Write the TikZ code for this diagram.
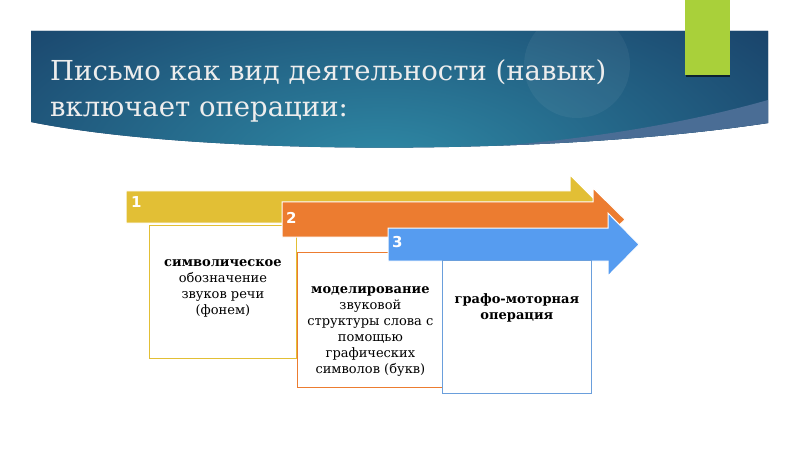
\documentclass[tikz,border=0pt]{standalone}
\usepackage{fontspec}
\setmainfont{DejaVu Serif}
\setsansfont{DejaVu Sans}
\usetikzlibrary{positioning}
\definecolor{banerdark}{HTML}{15345E}
\definecolor{banerlight}{HTML}{2F8AA6}
\definecolor{wedge}{HTML}{4A6D95}
\definecolor{grass}{HTML}{A9D03A}
\definecolor{gold}{HTML}{E2BF35}
\definecolor{carrot}{HTML}{EC7C30}
\definecolor{sky}{HTML}{569CF0}
\definecolor{skyline}{HTML}{6A9FDC}
\tikzset{
  band/.style={draw=white, line width=1pt},
  num/.style={text=white, font=\sffamily\bfseries\fontsize{15}{15}\selectfont,
    inner sep=0pt, anchor=west},
  stepbox/.style={rectangle, fill=white, line width=.8pt, inner sep=0pt,
    anchor=north west},
  boxtext/.style={align=center, inner sep=0pt,
    font=\fontsize{13}{16}\selectfont},
  heading/.style={text=white!93!black, font=\fontsize{27.5}{36}\selectfont,
    inner sep=0pt, anchor=base west},
}

\begin{document}
\begin{tikzpicture}[x=1pt,y=-1pt]
  \useasboundingbox (0,0) rectangle (800,449);
  \begin{scope}
    \clip (31,31) -- (768,31) -- (768,123) .. controls (550,156) and (200,156) .. (31,122) -- cycle;
    \fill[banerdark] (0,0) rectangle (800,200);
    \shade[inner color=banerlight, outer color=banerdark] (380,165) ellipse (600pt and 270pt);
    \fill[white, opacity=.05] (577,65) circle (53pt);
    \fill[wedge] (430,150) .. controls (560,145) and (680,125) .. (768,100) -- (800,100) -- (800,200) -- (430,200) -- cycle;
  \end{scope}
  \fill[black, opacity=.6] (686,0) rectangle (730,77);
  \fill[grass] (685,0) rectangle (730,75);
  \node[heading] (h1) at (50,81) {Письмо как вид деятельности (навык)};
  \node[heading] (h2) at (50,117) {включает операции:};

  \fill[gold, band] (126,191) -- (570,191) -- (570,175) -- (602,207) -- (570,239) -- (570,223) -- (126,223) -- cycle;
  \node[num] (n1) at (131,202) {1};
  \node[stepbox, draw=gold, minimum width=147pt, minimum height=133pt] (b1) at (149,225) {};
  \node[boxtext, below=34pt of b1.north] (t1) {\textbf{символическое}\\обозначение\\звуков речи\\(фонем)};

  \fill[carrot, band] (282,202) -- (593,202) -- (593,188) -- (625,219.5) -- (593,251) -- (593,237) -- (282,237) -- cycle;
  \node[num] (n2) at (286,218) {2};
  \node[stepbox, draw=carrot, minimum width=146pt, minimum height=135pt] (b2) at (297,252) {};
  \node[boxtext, below=34pt of b2.north] (t2) {\textbf{моделирование}\\звуковой\\структуры слова с\\помощью\\графических\\символов (букв)};

  \fill[sky, band] (388,228) -- (608,228) -- (608,213) -- (639,244.5) -- (608,276) -- (608,261) -- (388,261) -- cycle;
  \node[num] (n3) at (392,242) {3};
  \node[stepbox, draw=skyline, minimum width=149pt, minimum height=133pt] (b3) at (442,260) {};
  \node[boxtext, below=33pt of b3.north] (t3) {\textbf{графо-моторная}\\\textbf{операция}};
\end{tikzpicture}
\end{document}
